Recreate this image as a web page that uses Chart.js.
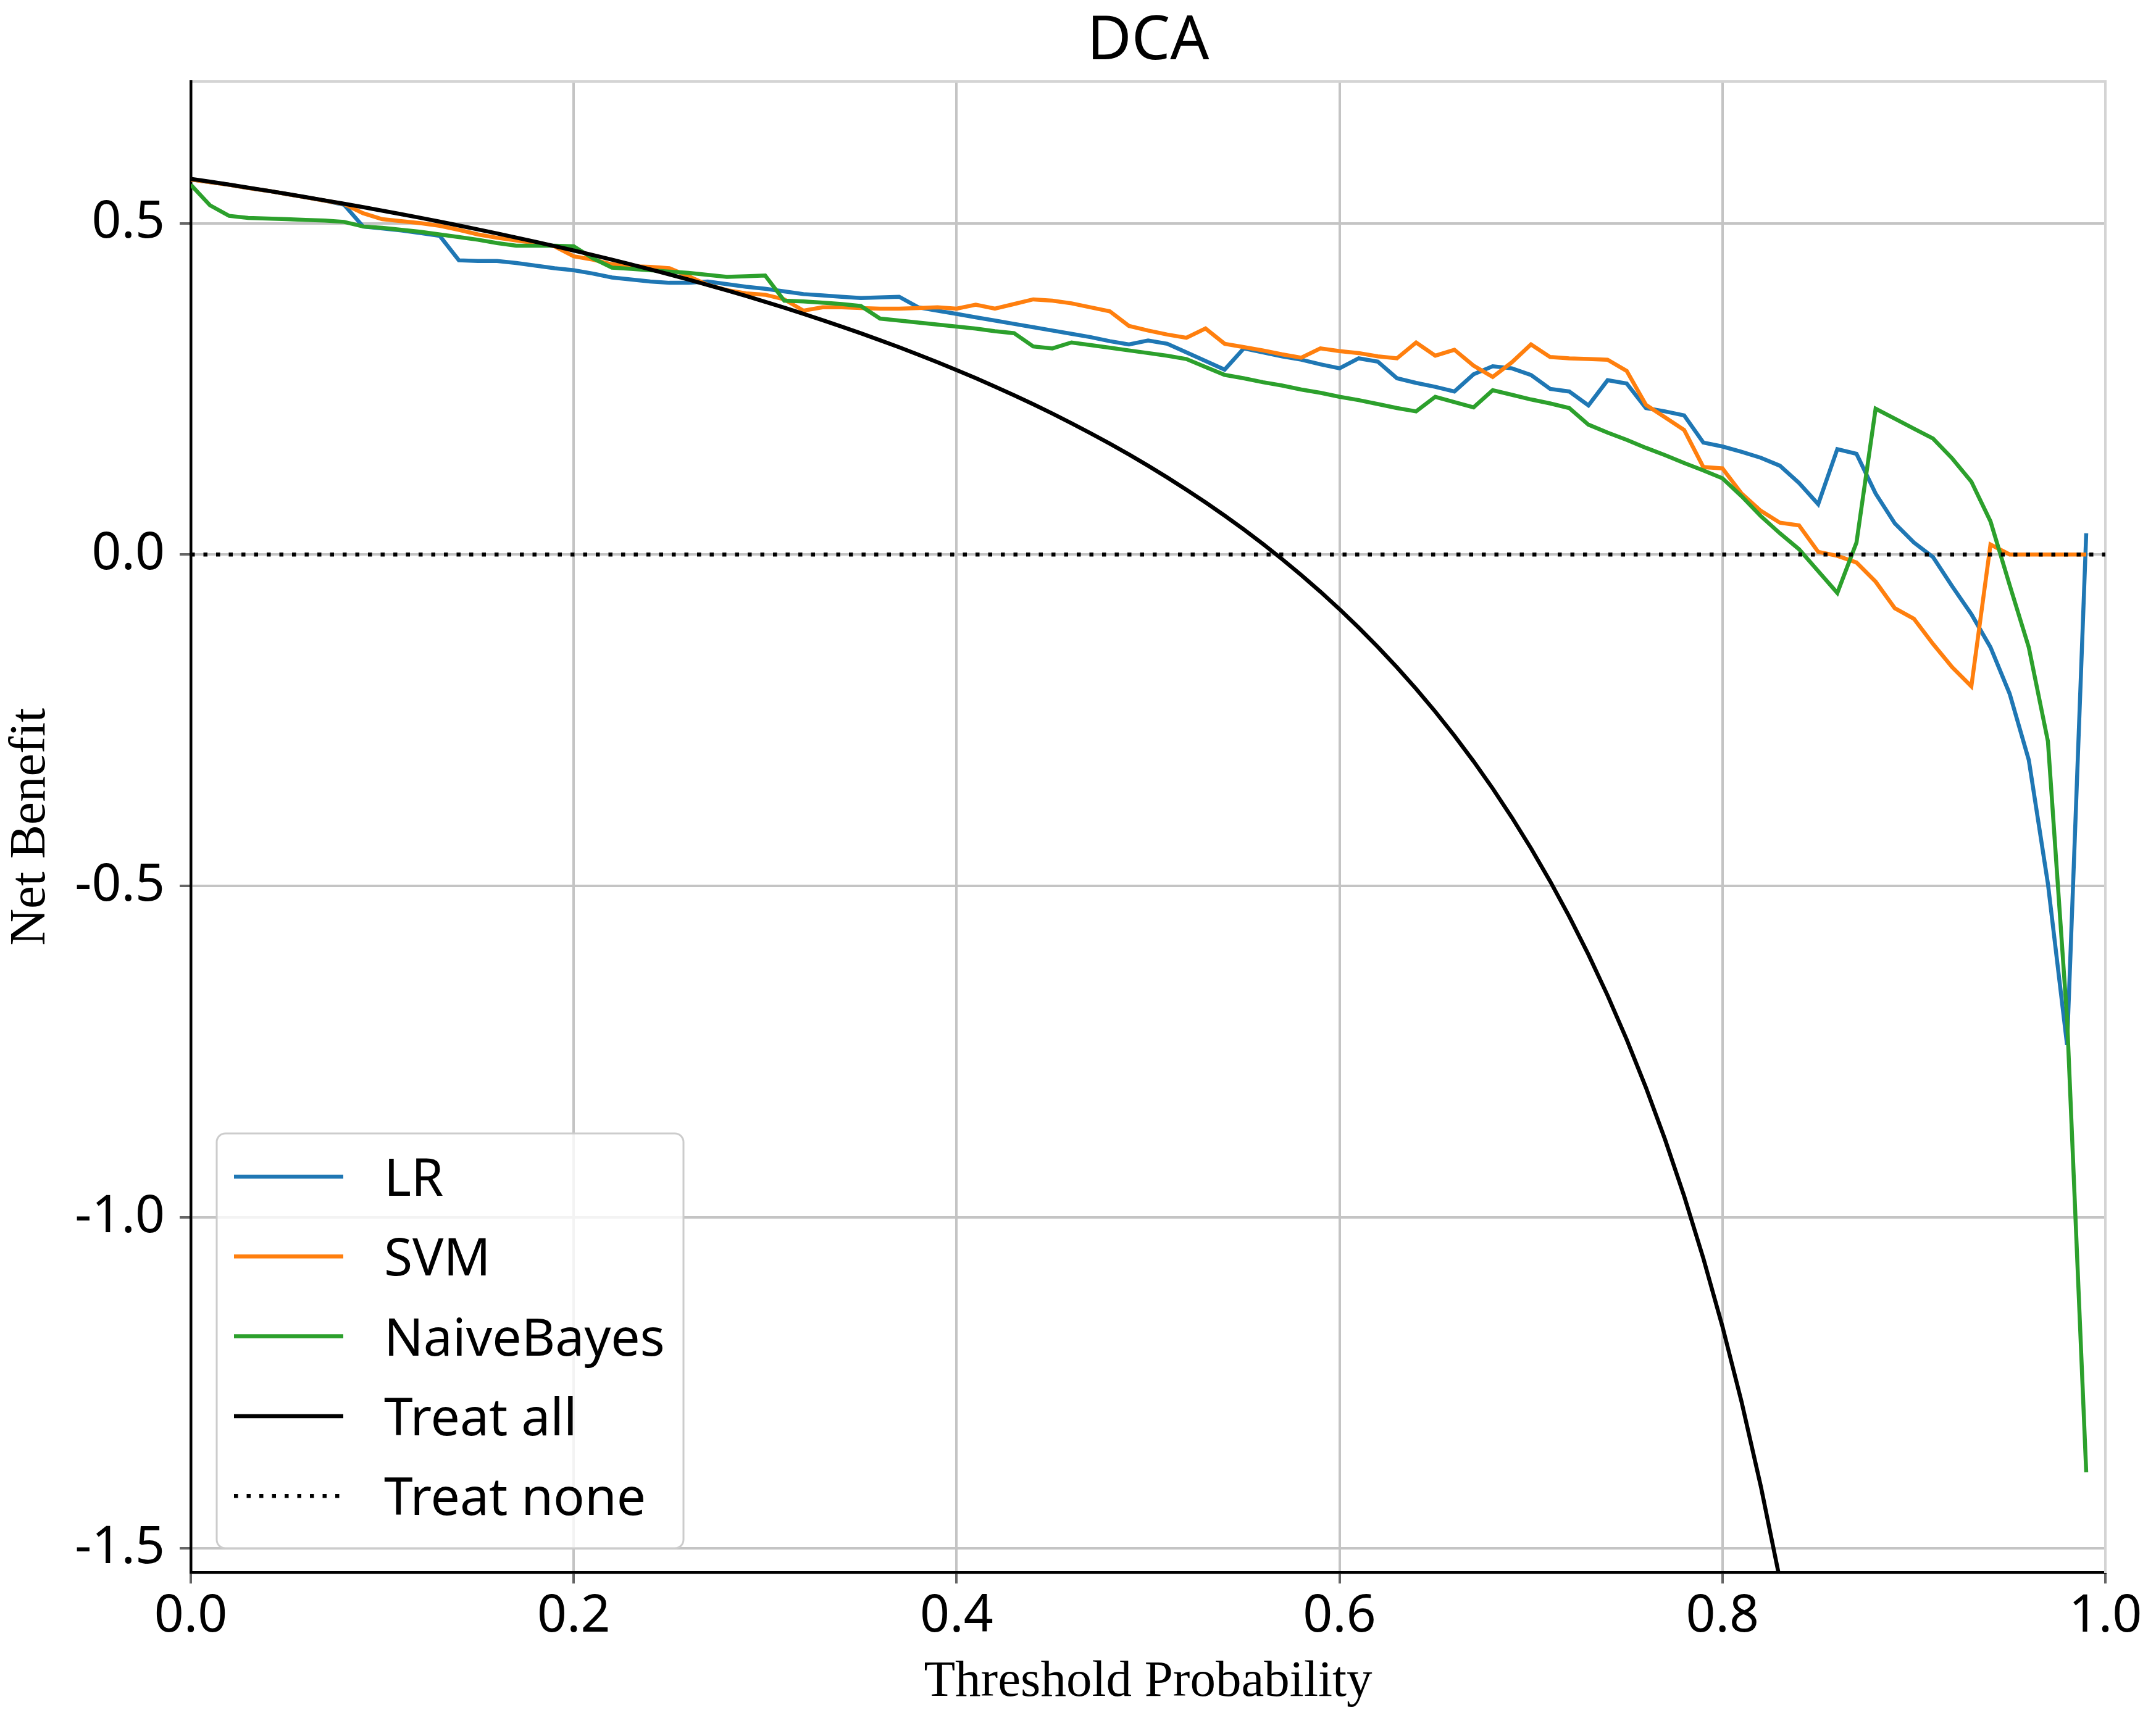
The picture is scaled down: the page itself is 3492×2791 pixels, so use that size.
<!DOCTYPE html>
<html><head><meta charset="utf-8">
<script src="https://cdn.jsdelivr.net/npm/chart.js@4.4.1/dist/chart.umd.min.js"></script>
<style>html,body{margin:0;padding:0;background:#fff}canvas{display:block}</style>
</head><body>
<canvas id="c" width="3492" height="2791" style="width:3492px;height:2791px"></canvas>
<script>
const thresholds = [0.00,0.01,0.02,0.03,0.04,0.05,0.06,0.07,0.08,0.09,0.10,0.11,0.12,0.13,0.14,0.15,0.16,0.17,0.18,0.19,0.20,0.21,0.22,0.23,0.24,0.25,0.26,0.27,0.28,0.29,0.30,0.31,0.32,0.33,0.34,0.35,0.36,0.37,0.38,0.39,0.40,0.41,0.42,0.43,0.44,0.45,0.46,0.47,0.48,0.49,0.50,0.51,0.52,0.53,0.54,0.55,0.56,0.57,0.58,0.59,0.60,0.61,0.62,0.63,0.64,0.65,0.66,0.67,0.68,0.69,0.70,0.71,0.72,0.73,0.74,0.75,0.76,0.77,0.78,0.79,0.80,0.81,0.82,0.83,0.84,0.85,0.86,0.87,0.88,0.89,0.90,0.91,0.92,0.93,0.94,0.95,0.96,0.97,0.98,0.99];

const lrValues = [0.566,0.562,0.558,0.553,0.549,0.544,0.539,0.534,0.528,0.495,0.492,0.489,0.485,0.481,0.444,0.443,0.443,0.440,0.436,0.432,0.429,0.424,0.418,0.415,0.412,0.410,0.410,0.412,0.408,0.404,0.401,0.397,0.393,0.391,0.389,0.387,0.388,0.389,0.373,0.368,0.363,0.358,0.353,0.348,0.343,0.338,0.333,0.328,0.322,0.317,0.323,0.318,0.305,0.292,0.279,0.311,0.305,0.299,0.294,0.287,0.281,0.296,0.291,0.266,0.259,0.253,0.246,0.272,0.284,0.281,0.271,0.250,0.246,0.225,0.263,0.258,0.221,0.216,0.210,0.169,0.163,0.155,0.146,0.134,0.108,0.076,0.159,0.152,0.092,0.047,0.018,-0.004,-0.048,-0.090,-0.140,-0.210,-0.310,-0.497,-0.740,0.032];

const svmValues = [0.566,0.562,0.558,0.553,0.549,0.544,0.539,0.534,0.529,0.515,0.506,0.503,0.500,0.496,0.490,0.483,0.478,0.474,0.470,0.465,0.450,0.445,0.438,0.435,0.434,0.432,0.420,0.407,0.399,0.394,0.392,0.385,0.368,0.373,0.373,0.372,0.371,0.371,0.372,0.373,0.371,0.377,0.371,0.378,0.385,0.383,0.379,0.373,0.367,0.345,0.338,0.332,0.327,0.341,0.318,0.313,0.308,0.302,0.297,0.311,0.307,0.304,0.299,0.296,0.320,0.300,0.309,0.285,0.268,0.290,0.317,0.298,0.296,0.295,0.294,0.277,0.226,0.207,0.188,0.132,0.130,0.092,0.066,0.048,0.044,0.004,-0.002,-0.012,-0.041,-0.081,-0.097,-0.135,-0.170,-0.199,0.015,0.000,0.000,0.000,0.000,0.000];

const nbValues = [0.558,0.527,0.511,0.508,0.507,0.506,0.505,0.504,0.502,0.495,0.493,0.490,0.487,0.483,0.479,0.475,0.470,0.466,0.466,0.466,0.465,0.447,0.433,0.431,0.429,0.427,0.425,0.422,0.419,0.420,0.421,0.383,0.382,0.380,0.378,0.375,0.356,0.353,0.350,0.347,0.344,0.341,0.337,0.334,0.314,0.311,0.320,0.316,0.312,0.308,0.304,0.300,0.295,0.283,0.271,0.266,0.260,0.255,0.249,0.244,0.238,0.233,0.227,0.221,0.216,0.238,0.230,0.222,0.248,0.241,0.234,0.228,0.221,0.196,0.184,0.173,0.161,0.150,0.138,0.127,0.115,0.088,0.058,0.032,0.008,-0.025,-0.058,0.018,0.220,0.205,0.190,0.175,0.145,0.110,0.050,-0.046,-0.140,-0.282,-0.700,-1.385];

const treatAllValues = [0.567,0.5626,0.5582,0.5536,0.5490,0.5442,0.5394,0.5344,0.5293,0.5242,0.5189,0.5135,0.5080,0.5023,0.4965,0.4906,0.4845,0.4783,0.4720,0.4654,0.4588,0.4519,0.4449,0.4377,0.4303,0.4227,0.4149,0.4068,0.3986,0.3901,0.3814,0.3725,0.3632,0.3537,0.3439,0.3338,0.3234,0.3127,0.3016,0.2902,0.2783,0.2661,0.2534,0.2404,0.2268,0.2127,0.1981,0.1830,0.1673,0.1510,0.1340,0.1163,0.0979,0.0787,0.0587,0.0378,0.0159,-0.0070,-0.0310,-0.0561,-0.0825,-0.1103,-0.1395,-0.1703,-0.2028,-0.2371,-0.2735,-0.3121,-0.3531,-0.3968,-0.4433,-0.4931,-0.5464,-0.6037,-0.6654,-0.7320,-0.8042,-0.8826,-0.9682,-1.0619,-1.1650,-1.2789,-1.4055,-1.5470,-1.7063,-1.8867];

const treatNoneX = [0.0, 1.0];
const treatNoneValues = [0.0, 0.0];

const xTicks = [0.0, 0.2, 0.4, 0.6, 0.8, 1.0];
const yTicks = [-1.5, -1.0, -0.5, 0.0, 0.5];
const seriesLabels = ['LR', 'SVM', 'NaiveBayes', 'Treat all', 'Treat none'];

const pts = (xs, ys) => ys.map((y, i) => ({x: xs[i], y: y}));

const LW = 6.5;
const TICK_FONT = {family: 'Noto Sans', size: 84, weight: 'normal'};
const AXIS_TITLE_FONT = {family: 'Liberation Serif', size: 83, weight: 'normal'};

const boxLegend = {
  id: 'boxLegend',
  afterDraw(chart) {
    const ctx = chart.ctx, a = chart.chartArea;
    const fx = a.left + 42, fy = a.bottom - 711, fw = 756, fh = 672;
    ctx.save();
    ctx.beginPath();
    ctx.roundRect(fx, fy, fw, fh, 14);
    ctx.fillStyle = 'rgba(255,255,255,0.8)';
    ctx.fill();
    ctx.lineWidth = 3;
    ctx.strokeStyle = '#cccccc';
    ctx.stroke();
    chart.data.datasets.forEach((ds, i) => {
      const ry = fy + 70 + i * 129.3;
      ctx.beginPath();
      ctx.setLineDash(ds.borderDash || []);
      ctx.lineCap = 'butt';
      ctx.lineWidth = ds.borderWidth;
      ctx.strokeStyle = ds.borderColor;
      ctx.moveTo(fx + 28, ry);
      ctx.lineTo(fx + 205, ry);
      ctx.stroke();
      ctx.setLineDash([]);
      ctx.fillStyle = '#000';
      ctx.font = '84px "Noto Sans"';
      ctx.textBaseline = 'alphabetic';
      ctx.textAlign = 'left';
      ctx.fillText(ds.label, fx + 271, ry + 31);
    });
    ctx.restore();
  }
};

const gridOpts = {color: '#c4c4c4', lineWidth: 4, tickLength: 18, tickColor: '#666', tickWidth: 4};

new Chart(document.getElementById('c').getContext('2d'), {
  type: 'line',
  data: {
    datasets: [
      {label: seriesLabels[0], data: pts(thresholds, lrValues), borderColor: '#1f77b4', borderWidth: LW, pointRadius: 0, tension: 0, fill: false, order: 4},
      {label: seriesLabels[1], data: pts(thresholds, svmValues), borderColor: '#ff7f0e', borderWidth: LW, pointRadius: 0, tension: 0, fill: false, order: 3},
      {label: seriesLabels[2], data: pts(thresholds, nbValues), borderColor: '#2ca02c', borderWidth: LW, pointRadius: 0, tension: 0, fill: false, order: 2},
      {label: seriesLabels[3], data: pts(thresholds, treatAllValues), borderColor: '#000000', borderWidth: LW, pointRadius: 0, tension: 0, fill: false, order: 1},
      {label: seriesLabels[4], data: pts(treatNoneX, treatNoneValues), borderColor: '#000000', borderWidth: LW, borderDash: [6.5, 14], pointRadius: 0, tension: 0, fill: false, order: 0}
    ]
  },
  options: {
    responsive: false,
    devicePixelRatio: 1,
    animation: false,
    layout: {padding: {left: 0, right: 82, top: 0, bottom: 0}},
    plugins: {
      legend: {display: false},
      tooltip: {enabled: false},
      title: {display: true, fullSize: false, text: 'DCA', color: '#000',
        font: {family: 'Noto Sans', size: 99, weight: 'normal'}, padding: {top: 8, bottom: 5}}
    },
    scales: {
      x: {
        type: 'linear', position: 'bottom', min: 0, max: 1,
        afterBuildTicks: s => { s.ticks = xTicks.map(v => ({value: v})); },
        afterFit: s => { s.height = 244; },
        ticks: {callback: v => Number(v).toFixed(1), font: TICK_FONT, color: '#000', padding: 4, maxRotation: 0, autoSkip: false},
        grid: gridOpts,
        border: {display: true, color: '#000', width: 4.5},
        title: {display: true, text: 'Threshold Probability', color: '#000', font: AXIS_TITLE_FONT, padding: {top: 0, bottom: 16}}
      },
      x2: {
        type: 'linear', position: 'top', min: 0, max: 1,
        ticks: {display: false}, grid: {display: false, drawTicks: false},
        border: {display: true, color: '#d4d4d4', width: 4},
        afterFit: s => { s.height = 0; }
      },
      y: {
        type: 'linear', position: 'left', min: -1.536, max: 0.714,
        afterBuildTicks: s => { s.ticks = yTicks.map(v => ({value: v})); },
        afterFit: s => { s.width = 309; },
        ticks: {callback: v => Number(v).toFixed(1), font: TICK_FONT, color: '#000', padding: 24},
        grid: gridOpts,
        border: {display: true, color: '#000', width: 4.5},
        title: {display: true, text: 'Net Benefit', color: '#000', font: AXIS_TITLE_FONT, padding: {top: 0, bottom: 0}}
      },
      y2: {
        type: 'linear', position: 'right', min: -1.536, max: 0.714,
        ticks: {display: false}, grid: {display: false, drawTicks: false},
        border: {display: true, color: '#d4d4d4', width: 4},
        afterFit: s => { s.width = 0; }
      }
    }
  },
  plugins: [boxLegend]
});
</script>
</body></html>
